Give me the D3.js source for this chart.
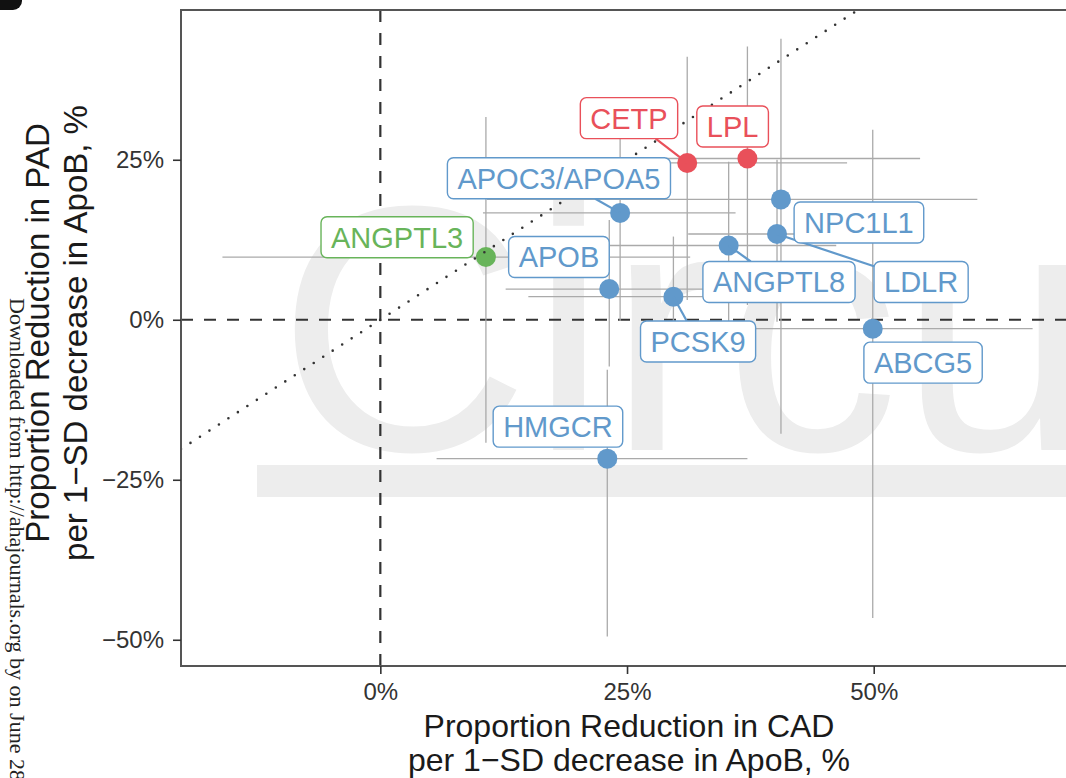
<!DOCTYPE html>
<html>
<head>
<meta charset="utf-8">
<script src="https://cdn.jsdelivr.net/npm/d3@7"></script>
<style>
  html, body { margin: 0; padding: 0; background: #fff; }
  svg { display: block; font-family: "Liberation Sans", Arial, Helvetica, sans-serif; }
</style>
</head>
<body>
<div id="chart"></div>
<script>
// Gene targets, effect on CAD (x) and PAD (y) per 1-SD lower ApoB, in %
const genes    = ['ANGPTL3', 'APOC3/APOA5', 'CETP', 'LPL', 'NPC1L1', 'LDLR', 'ANGPTL8', 'APOB', 'PCSK9', 'ABCG5', 'HMGCR'];
const geneSet  = ['green', 'blue', 'red', 'red', 'blue', 'blue', 'blue', 'blue', 'blue', 'blue', 'blue'];
const cadEst   = [10.7, 24.3, 31.1, 37.2, 40.6, 40.2, 35.3, 23.2, 29.7, 49.9, 23.0];
const cadLo    = [-16.0, 10.4, 19.5, 29.0, 10.8, 31.2, 22.0, 12.7, 15.0, 27.0, 5.7];
const cadHi    = [31.4, 36.0, 47.3, 54.7, 60.5, 49.0, 46.2, 34.0, 41.0, 66.1, 37.2];
const padEst   = [9.8, 16.7, 24.5, 25.2, 18.8, 13.4, 11.6, 4.8, 3.6, -1.4, -21.7];
const padLo    = [-19.2, -0.2, 3.1, 2.3, -17.8, -0.3, -0.3, -7.3, -5.5, -46.6, -49.5];
const padHi    = [31.7, 30.5, 41.1, 42.7, 43.9, 25.0, 24.7, 15.6, 13.0, 29.7, -7.8];
// where the repelled labels ended up (data units)
const labelCad = [1.7, 18.1, 25.2, 35.7, 48.5, 54.8, 40.4, 18.1, 32.2, 55.0, 18.0];
const labelPad = [12.9, 22.1, 31.5, 30.2, 15.2, 5.9, 5.9, 9.8, -3.4, -6.7, -16.7];

const xTicks = [0, 25, 50];
const yTicks = [-50, -25, 0, 25];
const xTitle = ['Proportion Reduction in CAD', 'per 1\u2212SD decrease in ApoB, %'];
const yTitle = ['Proportion Reduction in PAD', 'per 1\u2212SD decrease in ApoB, %'];

const colors = { blue: '#6199cb', red: '#e9505a', green: '#68b45a' };

const width = 1066, height = 778;
const panel = { left: 181, top: 10, right: 1077, bottom: 666 };

const svg = d3.select('#chart').append('svg')
  .attr('width', width)
  .attr('height', height);

const x = d3.scaleLinear().domain([-20.2, 70.6]).range([panel.left, panel.right]);
const y = d3.scaleLinear().domain([-54.1, 48.4]).range([panel.bottom, panel.top]);

const pct = d => (d < 0 ? '\u2212' : '') + Math.abs(d) + '%';

svg.append('clipPath').attr('id', 'panel-clip')
  .append('rect')
  .attr('x', panel.left).attr('y', panel.top)
  .attr('width', panel.right - panel.left).attr('height', panel.bottom - panel.top);

// journal watermark behind the plot
const wm = svg.append('g').attr('clip-path', 'url(#panel-clip)');
wm.append('text')
  .attr('x', 277).attr('y', 450)
  .style('font-size', '350px')
  .style('fill', '#ededed')
  .text('Circulation');
wm.append('rect')
  .attr('x', 257).attr('y', 465)
  .attr('width', width).attr('height', 32)
  .attr('fill', '#ededed');

const plot = svg.append('g').attr('clip-path', 'url(#panel-clip)');

// reference lines at 0
plot.append('line')
  .attr('x1', x(0)).attr('x2', x(0))
  .attr('y1', panel.top).attr('y2', panel.bottom)
  .attr('stroke', '#333').attr('stroke-width', 2.2)
  .attr('stroke-dasharray', '12,11');
plot.append('line')
  .attr('x1', panel.left).attr('x2', panel.right)
  .attr('y1', y(0)).attr('y2', y(0))
  .attr('stroke', '#333').attr('stroke-width', 2.2)
  .attr('stroke-dasharray', '12,11');

const idx = d3.range(genes.length);

// confidence intervals
plot.selectAll('.ci-x')
  .data(idx)
  .enter()
  .append('line')
  .attr('x1', i => x(cadLo[i])).attr('x2', i => x(cadHi[i]))
  .attr('y1', i => y(padEst[i])).attr('y2', i => y(padEst[i]))
  .attr('stroke', '#aaa').attr('stroke-width', 1.3);
plot.selectAll('.ci-y')
  .data(idx)
  .enter()
  .append('line')
  .attr('x1', i => x(cadEst[i])).attr('x2', i => x(cadEst[i]))
  .attr('y1', i => y(padLo[i])).attr('y2', i => y(padHi[i]))
  .attr('stroke', '#aaa').attr('stroke-width', 1.3);

// points
plot.selectAll('.pt')
  .data(idx)
  .enter()
  .append('circle')
  .attr('cx', i => x(cadEst[i]))
  .attr('cy', i => y(padEst[i]))
  .attr('r', 10)
  .attr('fill', i => colors[geneSet[i]]);

// identity line
const lo = Math.max(x.domain()[0], y.domain()[0]);
const hi = Math.min(x.domain()[1], y.domain()[1]);
plot.append('line')
  .attr('x1', x(lo)).attr('y1', y(lo))
  .attr('x2', x(hi)).attr('y2', y(hi))
  .attr('stroke', '#333').attr('stroke-width', 2.6)
  .attr('stroke-linecap', 'round')
  .attr('stroke-dasharray', '0,11.3');

// labels, measured first so the boxes fit the text
const labels = plot.append('g');
const boxes = idx.map(i => {
  const t = labels.append('text')
    .attr('x', x(labelCad[i]))
    .attr('y', y(labelPad[i]) + 10.4)
    .attr('text-anchor', 'middle')
    .style('font-size', '29px')
    .style('fill', colors[geneSet[i]])
    .text(genes[i]);
  const w = t.node().getComputedTextLength() + 20;
  return { i, t, cx: x(labelCad[i]), cy: y(labelPad[i]), hw: w / 2, hh: 20.5 };
});

// leader segments from each point toward its label
boxes.forEach(b => {
  const px = x(cadEst[b.i]), py = y(padEst[b.i]);
  const dx = b.cx - px, dy = b.cy - py;
  const s = Math.min(1, b.hw / Math.abs(dx || 1e-6), b.hh / Math.abs(dy || 1e-6));
  const len = Math.hypot(dx, dy) * (1 - s);
  if (len < 26) return;
  labels.insert('line', ':first-child')
    .attr('x1', px).attr('y1', py)
    .attr('x2', b.cx - dx * s).attr('y2', b.cy - dy * s)
    .attr('stroke', colors[geneSet[b.i]])
    .attr('stroke-width', 2.2);
});

boxes.forEach(b => {
  labels.insert('rect', () => b.t.node())
    .attr('x', b.cx - b.hw).attr('y', b.cy - b.hh)
    .attr('width', b.hw * 2).attr('height', b.hh * 2)
    .attr('rx', 6).attr('ry', 6)
    .attr('fill', '#fff')
    .attr('stroke', colors[geneSet[b.i]])
    .attr('stroke-width', 1.4);
});

// panel border
svg.append('rect')
  .attr('x', panel.left).attr('y', panel.top)
  .attr('width', panel.right - panel.left).attr('height', panel.bottom - panel.top)
  .attr('fill', 'none')
  .attr('stroke', '#555').attr('stroke-width', 2);

// axes
const xAxis = svg.append('g')
  .attr('transform', `translate(0,${panel.bottom})`)
  .call(d3.axisBottom(x).tickValues(xTicks).tickSize(8).tickPadding(9).tickFormat(pct));
const yAxis = svg.append('g')
  .attr('transform', `translate(${panel.left},0)`)
  .call(d3.axisLeft(y).tickValues(yTicks).tickSize(8).tickPadding(9).tickFormat(pct));

[xAxis, yAxis].forEach(a => {
  a.select('.domain').remove();
  a.selectAll('line').attr('stroke', '#333').attr('stroke-width', 1.6);
  a.selectAll('text')
    .style('font-family', '"Liberation Sans", Arial, sans-serif')
    .style('font-size', '24px')
    .style('fill', '#333');
});

// axis titles, centred on the full panel
const xMid = (panel.left + panel.right) / 2;
svg.append('text')
  .attr('text-anchor', 'middle')
  .style('font-size', '32px')
  .style('fill', '#1a1a1a')
  .selectAll('tspan')
  .data(xTitle)
  .enter()
  .append('tspan')
  .attr('x', xMid)
  .attr('y', (d, i) => 737 + i * 34)
  .text(d => d);

svg.append('text')
  .attr('transform', 'translate(0,333) rotate(-90)')
  .attr('text-anchor', 'middle')
  .style('font-size', '33px')
  .style('fill', '#1a1a1a')
  .selectAll('tspan')
  .data(yTitle)
  .enter()
  .append('tspan')
  .attr('x', 0)
  .attr('y', (d, i) => 49 + i * 38)
  .text(d => d);

// margin stamp and panel tag from the source page
svg.append('text')
  .attr('transform', 'translate(10,298) rotate(90)')
  .style('font-family', '"Liberation Serif", "Times New Roman", serif')
  .style('font-size', '22px')
  .style('fill', '#222')
  .text('Downloaded from http://ahajournals.org by on June 28,');

svg.append('rect')
  .attr('x', -30).attr('y', -30)
  .attr('width', 52).attr('height', 40)
  .attr('rx', 9)
  .attr('fill', '#111');
</script>
</body>
</html>
